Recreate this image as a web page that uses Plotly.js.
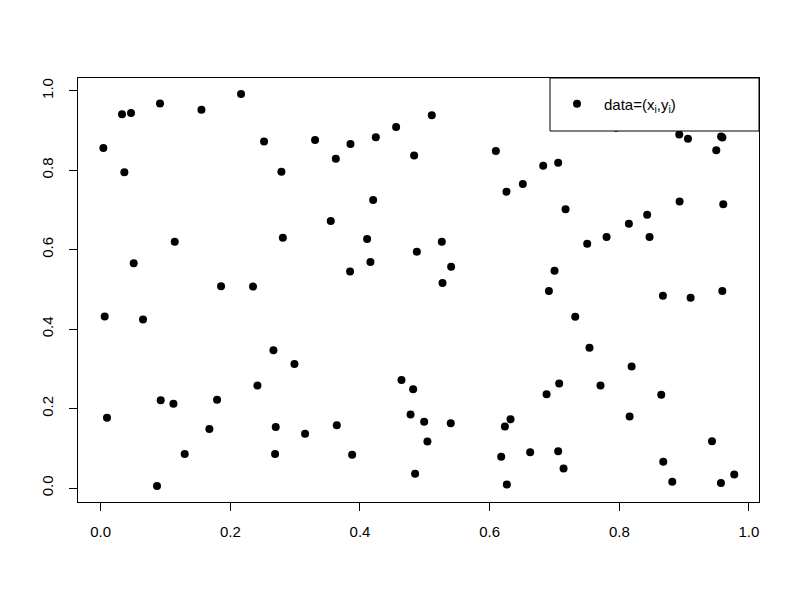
<!DOCTYPE html>
<html><head><meta charset="utf-8">
<script src="https://cdn.plot.ly/plotly-3.0.1.min.js"></script>
<style>html,body{margin:0;padding:0;background:#fff}</style>
</head><body>
<div id="chart" style="width:800px;height:600px"></div>
<script>
const xValues = [
  0.2165,0.0915,0.0329,0.0468,0.1554,0.252,0.0041,0.0365,0.2788,0.281,0.1142,0.0509,0.1857,0.235,
  0.3307,0.3627,0.3853,0.4244,0.4557,0.5108,0.4835,0.6096,0.6512,0.626,0.4203,0.3549,0.411,0.5262,0.4877,0.4161,0.5406,0.3847,0.5273,
  0.795,0.8925,0.9059,0.957,0.959,0.9496,0.6826,0.7057,0.7171,0.893,0.9604,0.843,0.8148,0.7804,0.8467,0.7505,0.7001,
  0.6914,0.8673,0.910,0.9589,0.732,0.754,0.819,0.7073,0.6878,0.771,0.8647,0.8159,0.943,0.6625,0.7057,0.714,0.8678,0.8817,0.9568,0.9773,
  0.464,0.482,0.478,0.499,0.540,0.504,0.485,0.3153,0.3642,0.3879,0.6235,0.6322,0.6178,0.6265,
  0.0062,0.0653,0.2665,0.2989,0.2418,0.0926,0.1122,0.1795,0.0097,0.1677,0.270,0.1296,0.269,0.0869
];
const yValues = [
  0.992,0.968,0.941,0.944,0.952,0.872,0.856,0.795,0.796,0.630,0.620,0.566,0.508,0.507,
  0.876,0.829,0.866,0.883,0.909,0.938,0.837,0.848,0.765,0.746,0.725,0.672,0.627,0.620,0.595,0.569,0.557,0.545,0.516,
  0.907,0.890,0.879,0.885,0.882,0.850,0.811,0.819,0.702,0.721,0.714,0.688,0.665,0.632,0.632,0.615,0.547,
  0.496,0.484,0.479,0.496,0.431,0.353,0.306,0.263,0.236,0.258,0.235,0.180,0.118,0.090,0.093,0.049,0.066,0.016,0.013,0.034,
  0.272,0.249,0.185,0.167,0.163,0.117,0.036,0.137,0.158,0.084,0.155,0.173,0.079,0.009,
  0.432,0.424,0.347,0.312,0.258,0.221,0.212,0.222,0.177,0.149,0.154,0.086,0.086,0.005
];
const xTickVals = [0, 0.2, 0.4, 0.6, 0.8, 1.0];
const xTickText = ["0.0","0.2","0.4","0.6","0.8","1.0"];
const yTickVals = [0, 0.2, 0.4, 0.6, 0.8, 1.0];
const yTickText = ["0.0","0.2","0.4","0.6","0.8","1.0"];
const legendLabel = "data=(x<sub>i</sub>,y<sub>i</sub>)";

const FONT = '"Liberation Sans", Arial, Helvetica, sans-serif';

const trace = {
  x: xValues, y: yValues, type: 'scatter', mode: 'markers',
  name: legendLabel,
  marker: {color: '#000', size: 8, line: {width: 0}},
  hoverinfo: 'skip'
};

const layout = {
  width: 800, height: 600,
  margin: {l: 78, r: 41, t: 78, b: 98, pad: 0},
  paper_bgcolor: '#fff', plot_bgcolor: '#fff',
  font: {family: FONT, size: 15, color: '#000'},
  showlegend: true,
  legend: {
    x: 0.6931, xanchor: 'left', y: 0.9387, yanchor: 'middle',
    bgcolor: 'rgba(0,0,0,0)', borderwidth: 0, itemwidth: 44,
    font: {family: FONT, size: 15, color: '#000'}
  },
  xaxis: {
    range: [-0.035, 1.0155], autorange: false,
    showgrid: false, zeroline: false,
    showline: true, mirror: true, linecolor: '#000', linewidth: 1,
    ticks: 'outside', ticklen: 8, tickwidth: 1, tickcolor: '#000',
    tickvals: xTickVals, ticktext: xTickText,
    ticklabelstandoff: 8,
    tickfont: {family: FONT, size: 15, color: '#000'}
  },
  yaxis: {
    range: [-0.035, 1.032], autorange: false,
    showgrid: false, zeroline: false,
    showline: true, mirror: true, linecolor: '#000', linewidth: 1,
    ticks: 'outside', ticklen: 8, tickwidth: 1, tickcolor: '#000',
    tickvals: yTickVals, ticktext: yTickText, tickangle: -90,
    ticklabelstandoff: 10,
    tickfont: {family: FONT, size: 15, color: '#000'}
  },
  shapes: [
    {type: 'rect', xref: 'paper', yref: 'paper',
     x0: 0.6931, x1: 1, y0: 0.875, y1: 1,
     fillcolor: '#fff', line: {color: '#000', width: 1}, layer: 'above'}
  ]
};

Plotly.newPlot('chart', [trace], layout, {displayModeBar: false, staticPlot: true});
</script>
</body></html>
